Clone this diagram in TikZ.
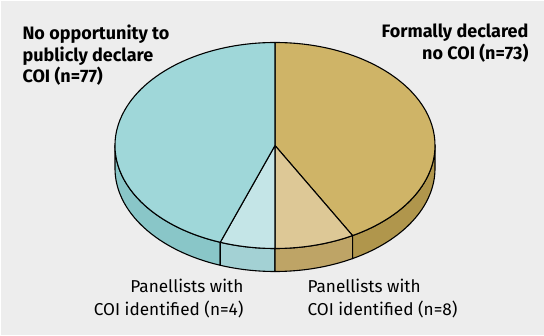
\documentclass[tikz,border=0pt]{standalone}
\usepackage{fontspec}
\setmainfont{Fira Sans}
\usetikzlibrary{calc}
\usetikzlibrary{positioning}
\definecolor{hgrau}{HTML}{EDEDED}
\definecolor{tuerkis}{HTML}{9FD7D9}
\definecolor{tuerkishell}{HTML}{C4E5E7}
\definecolor{tuerkisseite}{HTML}{89C6C8}
\definecolor{tuerkishellseite}{HTML}{A3D1D4}
\definecolor{gold}{HTML}{CFB467}
\definecolor{goldhell}{HTML}{DDC896}
\definecolor{goldhellseite}{HTML}{BEA466}
\definecolor{goldseite}{HTML}{B0964C}

\begin{document}
\begin{tikzpicture}[x=1pt, y=1pt, line width=1.1pt, line join=round,
  titel/.style={font=\fontsize{18}{21.5}\selectfont\bfseries, inner sep=0pt},
  anm/.style={font=\fontsize{17.2}{23}\selectfont, inner sep=0pt}] % Schriften

% Hintergrund
\fill[white] (0,0) rectangle (544,335);
\fill[hgrau] (1,0) rectangle (544,334);
\useasboundingbox (0,0) rectangle (544,335);

\coordinate (m) at (275,189.5); % Mittelpunkt der Torte

% Seitenflaechen (Rand unten)
\foreach \a/\b/\farbe in {180/250/tuerkisseite, 250/270/tuerkishellseite, 270/299/goldhellseite, 299/360/goldseite} {
  \filldraw[fill=\farbe] ($(m)+(\a:160 and 103)$) arc[start angle=\a, end angle=\b, x radius=160, y radius=103] -- ++(0,-23) arc[start angle=\b, end angle=\a, x radius=160, y radius=103] -- cycle;
}

% Tortenstuecke oben
\foreach \a/\b/\farbe in {90/-61/gold, -61/-90/goldhell, -90/-110/tuerkishell, -110/-270/tuerkis} {
  \filldraw[fill=\farbe] (m) -- ($(m)+(\a:160 and 103)$) arc[start angle=\a, end angle=\b, x radius=160, y radius=103] -- cycle;
}

% Beschriftungen
\node[titel, anchor=north west, align=left] (keine) at (22,310.5) {No opportunity to\\publicly declare\\COI (n=77)};
\node[titel, anchor=north east, align=right] (formal) at (529,311.5) {Formally declared\\no COI (n=73)};
\node[anm, anchor=north east, align=right] (panelvier) at (244,56) {Panellists with\\COI identified (n=4)};
\node[anm, anchor=north west, align=left] (panelacht) at (307,56) {Panellists with\\COI identified (n=8)};

\end{tikzpicture}
\end{document}
